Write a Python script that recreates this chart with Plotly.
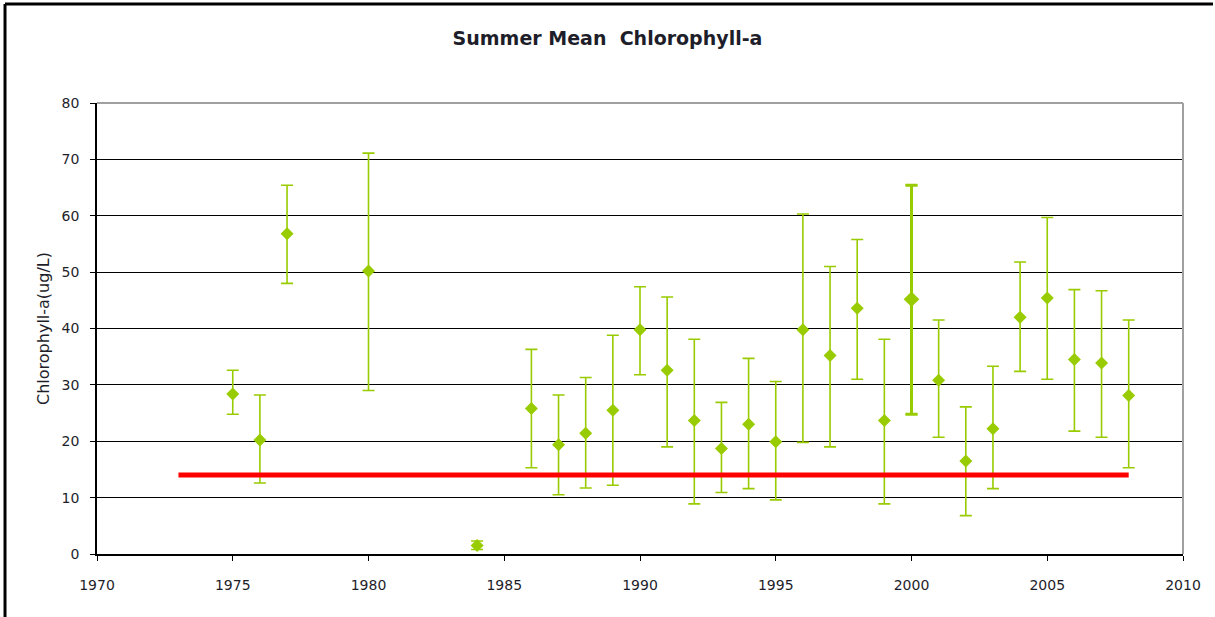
import plotly.graph_objects as go

# Summer mean chlorophyll-a per year, with upper / lower bounds of the error bars
years = [1975, 1976, 1977, 1980, 1984, 1986, 1987, 1988, 1989, 1990, 1991, 1992,
         1993, 1994, 1995, 1996, 1997, 1998, 1999, 2000, 2001, 2002, 2003, 2004,
         2005, 2006, 2007, 2008]
means = [28.4, 20.2, 56.8, 50.2, 1.5, 25.8, 19.4, 21.4, 25.5, 39.8, 32.6, 23.7,
         18.7, 23.0, 19.9, 39.8, 35.2, 43.6, 23.7, 45.2, 30.8, 16.5, 22.2, 42.0,
         45.4, 34.5, 33.9, 28.1]
upper = [32.6, 28.2, 65.4, 71.1, 2.3, 36.3, 28.2, 31.3, 38.8, 47.4, 45.6, 38.1,
         26.9, 34.7, 30.6, 60.3, 51.0, 55.8, 38.1, 65.4, 41.5, 26.1, 33.3, 51.8,
         59.7, 46.9, 46.7, 41.5]
lower = [24.8, 12.6, 48.0, 29.0, 0.8, 15.3, 10.5, 11.7, 12.2, 31.8, 19.0, 8.9,
         10.9, 11.6, 9.6, 19.8, 19.0, 31.0, 8.9, 24.8, 20.7, 6.8, 11.6, 32.4,
         31.0, 21.8, 20.7, 15.3]
thick_years = [2000]

# target line
target_years = [1973, 2008]
target_value = 14

GREEN = "#99cc00"
FONT = "DejaVu Sans"
TEXT = "#1e1e2a"

err_plus = [u - m for u, m in zip(upper, means)]
err_minus = [m - l for m, l in zip(means, lower)]

fig = go.Figure()

fig.add_trace(go.Scatter(
    x=years, y=means, mode="markers",
    marker=dict(symbol="diamond", size=10, color=GREEN),
    error_y=dict(type="data", symmetric=False, array=err_plus, arrayminus=err_minus,
                 color=GREEN, thickness=1.6, width=6),
    showlegend=False,
))

idx = [i for i, y in enumerate(years) if y in thick_years]
fig.add_trace(go.Scatter(
    x=[years[i] for i in idx], y=[means[i] for i in idx], mode="markers",
    marker=dict(symbol="diamond", size=12, color=GREEN),
    error_y=dict(type="data", symmetric=False,
                 array=[err_plus[i] for i in idx], arrayminus=[err_minus[i] for i in idx],
                 color=GREEN, thickness=3, width=6),
    showlegend=False,
))

fig.add_trace(go.Scatter(
    x=target_years, y=[target_value] * len(target_years), mode="lines",
    line=dict(color="#ff0000", width=5), showlegend=False,
))

fig.update_layout(
    width=1215, height=617,
    margin=dict(l=97, r=32, t=103, b=63),
    paper_bgcolor="white", plot_bgcolor="white",
    font=dict(family=FONT, size=14, color=TEXT),
    title=dict(text="<b>Summer Mean  Chlorophyll-a</b>", x=0.5, xanchor="center",
               y=1 - 38 / 617, yanchor="middle",
               font=dict(family=FONT, size=19, color=TEXT)),
    shapes=[
        # outer frame (top and left)
        dict(type="line", xref="paper", yref="paper", x0=-0.0847, x1=1.0276,
             y0=1.2195, y1=1.2195, line=dict(color="black", width=3)),
        dict(type="line", xref="paper", yref="paper", x0=-0.0847, x1=-0.0847,
             y0=1.2195, y1=-0.15, line=dict(color="black", width=3)),
        # plot area border top / right in gray
        dict(type="line", xref="paper", yref="paper", x0=0, x1=1, y0=1, y1=1,
             line=dict(color="#a0a0a0", width=2), layer="above"),
        dict(type="line", xref="paper", yref="paper", x0=1, x1=1, y0=0, y1=1,
             line=dict(color="#a0a0a0", width=2), layer="above"),
    ],
)

fig.update_xaxes(
    range=[1970, 2010], tickmode="linear", tick0=1970, dtick=5,
    showgrid=False, zeroline=False,
    showline=True, linecolor="black", linewidth=1.5,
    ticks="outside", ticklen=5, tickcolor="black", ticklabelstandoff=12,
    tickfont=dict(family=FONT, size=14, color=TEXT),
)
fig.update_yaxes(
    range=[0, 80], tickmode="linear", tick0=0, dtick=10,
    showgrid=True, gridcolor="black", gridwidth=1.2, zeroline=False,
    showline=True, linecolor="black", linewidth=1.5,
    ticks="outside", ticklen=5, tickcolor="black", ticklabelstandoff=8,
    tickfont=dict(family=FONT, size=14, color=TEXT),
    title=dict(text="Chlorophyll-a(ug/L)", standoff=8,
               font=dict(family=FONT, size=16, color=TEXT)),
)

# drop the browser's default body margin so the figure sits at the page origin
fig.write_html("out.html", config={"displayModeBar": False},
               post_script="document.body.style.margin='0';")
